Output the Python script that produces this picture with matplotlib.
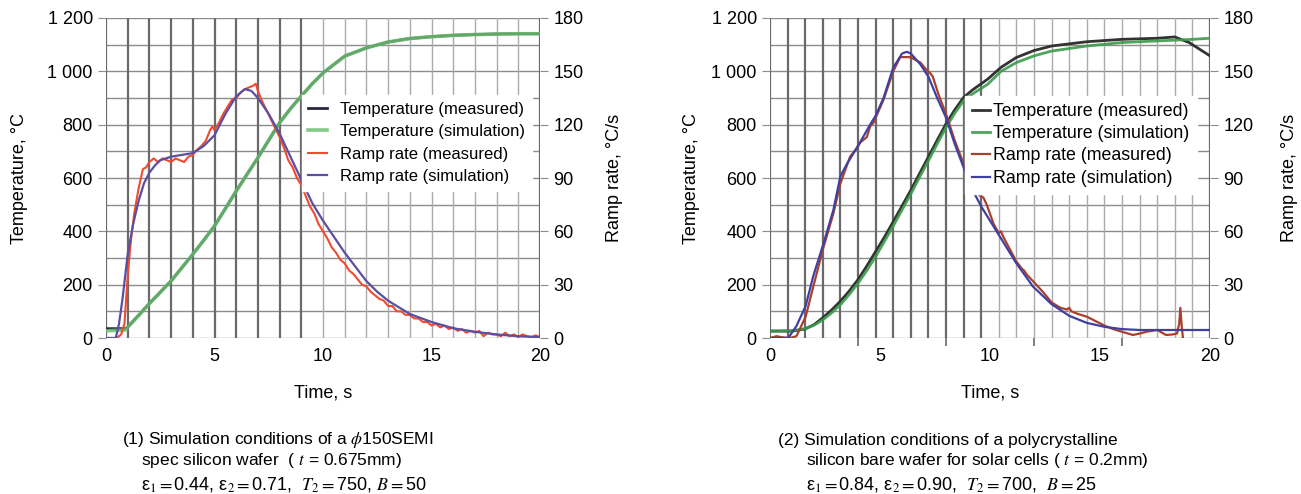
import numpy as np
import matplotlib.pyplot as plt

plt.rcParams['font.family'] = ['Liberation Sans', 'DejaVu Sans']
plt.rcParams['mathtext.fontset'] = 'stix'

# ---- panel (1): phi150 SEMI wafer ----
t_temp1 = [0, 0.9, 1.0, 1.5, 2, 2.5, 3, 3.5, 4, 4.5, 5, 5.5, 6, 6.5, 7, 7.5, 8, 8.5,
           9, 9.5, 10, 11, 12, 13, 14, 15, 16, 17, 18, 19, 20]
temp_meas1 = [35, 35, 42, 85, 130, 172, 214, 264, 314, 366, 420, 485, 551, 614, 676, 742,
              807, 860, 907, 953, 994, 1057, 1088, 1110, 1123, 1130, 1135, 1138, 1140, 1141, 1141]
temp_sim1 = [27, 30, 40, 84, 129, 171, 214, 264, 314, 366, 420, 485, 551, 614, 676, 742,
             807, 860, 907, 953, 994, 1057, 1088, 1110, 1123, 1130, 1135, 1138, 1140, 1141, 1141]

t_rs1 = [0, 0.45, 0.6, 0.75, 1.0, 1.25, 1.5, 1.75, 2.0, 2.25, 2.5, 3.0, 3.5, 4.0, 4.5, 5.0,
         5.5, 6.0, 6.4, 6.7, 7.0, 7.5, 8.0, 8.5, 9.0, 9.5, 10, 10.5, 11, 11.5, 12, 12.5, 13,
         14, 15, 16, 17, 18, 19, 20]
ramp_sim1 = [0, 0, 8, 21, 47, 64, 77, 87, 93, 97, 100, 102, 103, 104, 108, 114, 126, 136, 140,
             139, 135, 126, 115, 102, 89, 76, 66, 57, 48, 40, 32, 26, 21, 13.5, 9, 5.5, 3.5, 2,
             1, 0.5]

t_rm1 = [0, 0.5, 0.7, 0.85, 1.0, 1.15, 1.3, 1.5, 1.7, 1.85, 2.0, 2.2, 2.4, 2.6, 2.8, 3.0, 3.2,
         3.4, 3.6, 3.8, 4.0, 4.2, 4.4, 4.6, 4.8, 4.9, 5.0, 5.2, 5.4, 5.6, 5.8, 6.0, 6.2, 6.4,
         6.6, 6.8, 6.9, 7.0, 7.2, 7.4, 7.6, 7.8, 8.0, 8.2, 8.4, 8.6, 8.8, 9.0, 9.2, 9.4, 9.6,
         9.8, 10.0, 10.2, 10.4, 10.6, 10.8, 11.0, 11.2, 11.4, 11.6, 11.8, 12.0, 12.2, 12.4,
         12.6, 12.8, 13.0, 13.2, 13.4, 13.6, 13.8, 14.0, 14.2, 14.4, 14.6, 14.8, 15.0, 15.2,
         15.4, 15.6, 15.8, 16.0, 16.2, 16.4, 16.6, 16.8, 17.0, 17.2, 17.4, 17.6, 17.8, 18.0,
         18.2, 18.4, 18.6, 18.8, 19.0, 19.2, 19.4, 19.6, 19.8, 20.0]
ramp_meas1 = [0, 0, 2, 8, 35, 55, 70, 84, 95, 96, 99, 101, 99, 101, 100, 99, 101, 100, 99, 102,
              103, 106, 108, 111, 117, 119, 117, 121, 126, 130, 134, 135, 138, 140, 141, 142,
              143, 139, 133, 128, 123, 118, 113, 107, 100, 96, 90, 86, 80, 74, 70, 64, 60, 56,
              51, 48, 44, 42, 38, 36, 33, 30, 29, 26, 24, 22, 21, 18, 18, 15, 15, 13, 13, 11,
              11, 9, 9, 7, 8, 6, 7, 5, 6, 4, 5, 3, 4, 3, 4, 1, 3, 2, 2, 1, 3, 1, 2, 0.5, 2, 1,
              0.5, 1.5, 0.5]

# ---- panel (2): polycrystalline solar wafer ----
t_temp2 = [0, 1.0, 1.2, 1.6, 2.0, 2.4, 2.8, 3.2, 3.6, 4.0, 4.4, 4.8, 5.2, 5.6, 6.0, 6.4, 6.8,
           7.2, 7.6, 8.0, 8.4, 8.8, 9.2, 9.9, 10.5, 11.2, 12.0, 12.8, 14.4, 16.0, 17.6, 18.4,
           19.05, 20]
temp_meas2 = [26, 26, 28, 34, 50, 76, 105, 138, 176, 219, 270, 324, 378, 436, 495, 554, 617,
              679, 742, 803, 856, 902, 930, 971, 1015, 1052, 1078, 1095, 1111, 1120, 1124,
              1129, 1108, 1058]
t_sim2 = [0, 1.0, 1.6, 2.0, 2.4, 2.8, 3.2, 3.6, 4.0, 4.4, 4.8, 5.2, 5.6, 6.0, 6.4, 6.8, 7.2,
          7.6, 8.0, 8.4, 8.8, 9.2, 9.9, 10.5, 11.2, 12.0, 12.8, 14.4, 16.0, 17.6, 19.0, 20]
temp_sim2 = [26, 27, 35, 48, 68, 94, 125, 163, 205, 253, 305, 362, 420, 480, 540, 603, 665,
             728, 790, 843, 890, 915, 952, 1000, 1033, 1058, 1076, 1095, 1108, 1114, 1119, 1124]

t_rs2 = [0, 0.83, 1.2, 1.62, 1.97, 2.43, 2.88, 3.2, 3.5, 4.0, 4.55, 4.8, 5.16, 5.6, 6.0, 6.22,
         6.4, 6.83, 7.2, 7.6, 8.0, 8.4, 8.8, 9.26, 9.6, 10.0, 10.5, 11.2, 11.95, 12.8, 13.6,
         14.4, 15.2, 16.0, 16.8, 20]
ramp_sim2 = [0, 0, 6.7, 18, 35, 53, 72, 91, 98, 108, 120, 125, 135, 152, 160, 161, 160, 154,
             147, 135, 124, 109, 96, 82, 74, 66, 56, 42, 29, 19, 12.5, 8.5, 6.3, 5, 4.5, 4.5]

t_rm2 = [0, 0.3, 0.5, 0.9, 1.2, 1.62, 1.97, 2.43, 2.88, 3.2, 3.64, 3.9, 4.1, 4.4, 4.55, 4.7,
         5.16, 5.6, 5.92, 6.37, 6.83, 7.1, 7.28, 7.4, 7.66, 8.0, 8.4, 8.8, 9.26, 9.55, 9.7,
         9.85, 10.17, 10.4, 10.5, 10.6, 11.2, 11.45, 11.55, 11.65, 11.95, 12.4, 12.8, 13.2,
         13.5, 13.6, 13.7, 14.0, 14.4, 14.8, 15.2, 15.6, 16.0, 16.5, 16.8, 17.1, 17.6, 18.0,
         18.3, 18.5, 18.6, 18.65, 18.72, 18.77]
ramp_meas2 = [0, 1, 0.5, 0, 1, 12, 29, 51, 70, 87, 102, 106, 110, 113, 119, 121, 134, 150, 158,
              158, 155, 151, 149, 147, 137, 126, 111, 98, 85, 80, 79, 75, 64, 59, 60, 57, 43,
              39, 38, 36, 32, 26, 20, 17, 16, 17, 15, 13.5, 12, 9.5, 7, 5, 3.5, 1.7, 2.5, 3.5,
              4.5, 1.7, 2, 2.5, 8, 17, 6, 0]

temp_ticks = [0, 200, 400, 600, 800, 1000, 1200]
temp_labels = ['0', '200', '400', '600', '800', '1 000', '1 200']
rate_ticks = [0, 30, 60, 90, 120, 150, 180]
labels = ['Temperature (measured)', 'Temperature (simulation)',
          'Ramp rate (measured)', 'Ramp rate (simulation)']

fig = plt.figure(figsize=(13.01, 4.94), dpi=100)
ax1 = fig.add_axes([106 / 1301, 156 / 494, 434 / 1301, 320 / 494])
ax3 = fig.add_axes([770 / 1301, 156 / 494, 440 / 1301, 320 / 494])


def setup(ax, vgrid, dark_until, xminor, lpad, rpad):
    ax.set_xlim(0, 20)
    ax.set_ylim(0, 1200)
    for y in range(0, 1201, 100):
        ax.axhline(y, color='#8c8c8c', lw=1.0, zorder=0)
    for x in vgrid:
        if x <= dark_until or x >= 19.99:
            ax.axvline(x, color='#6a6a6a', lw=1.6, zorder=0)
        else:
            ax.axvline(x, color='#ababab', lw=1.0, zorder=0)
    ax.set_xticks([0, 5, 10, 15, 20])
    ax.set_xticks(xminor, minor=True)
    ax.tick_params(axis='x', which='major', length=0, pad=7, labelsize=13)
    ax.tick_params(axis='x', which='minor', length=6, color='#6a6a6a', width=1.2)
    ax.set_yticks(temp_ticks)
    ax.set_yticklabels(temp_labels)
    ax.tick_params(axis='y', length=6, color='#8c8c8c', labelsize=13)
    for s in ax.spines.values():
        s.set_visible(False)
    ax.set_xlabel('Time, s', fontsize=13, labelpad=14)
    ax.set_ylabel('Temperature, °C', fontsize=13, labelpad=lpad)
    ax2 = ax.twinx()
    ax2.set_ylim(0, 180)
    ax2.set_yticks(rate_ticks)
    ax2.tick_params(axis='y', length=6, color='#8c8c8c', labelsize=13)
    for s in ax2.spines.values():
        s.set_visible(False)
    ax2.set_ylabel('Ramp rate, °C/s', fontsize=13, labelpad=rpad)
    return ax2


grid1 = list(range(0, 21))
ax2 = setup(ax1, grid1, 9, [5, 10, 15], 14, 16)
h1, = ax1.plot(t_temp1, temp_meas1, color='#2b2540', lw=2.0, zorder=3)
h2, = ax1.plot(t_temp1, temp_sim1, color='#6cc070', lw=2.6, alpha=0.85, zorder=4)
h3, = ax2.plot(t_rm1, ramp_meas1, color='#f04a30', lw=1.5)
h4, = ax2.plot(t_rs1, ramp_sim1, color='#5a4fa0', lw=1.6)
leg = ax2.legend([h1, h2, h3, h4], labels, loc='upper right', bbox_to_anchor=(1.0, 0.785),
                 fontsize=12, frameon=True, fancybox=False, framealpha=1, edgecolor='white',
                 handlelength=1.1, handletextpad=0.8, labelspacing=0.45, borderpad=0.4)
leg.set_zorder(10)

grid2 = [i * 0.8 for i in range(26)]
ax4 = setup(ax3, grid2, 9.7, [4, 8, 12, 16, 20], 8, 20)
g1, = ax3.plot(t_temp2, temp_meas2, color='#333333', lw=2.0, zorder=3)
g2, = ax3.plot(t_sim2, temp_sim2, color='#3a9a4a', lw=2.0, alpha=0.9, zorder=4)
g3, = ax4.plot(t_rm2, ramp_meas2, color='#a84030', lw=1.6)
g4, = ax4.plot(t_rs2, ramp_sim2, color='#4040a0', lw=1.6)
leg2 = ax4.legend([g1, g2, g3, g4], labels, loc='upper right', bbox_to_anchor=(0.99, 0.785),
                  fontsize=12.8, frameon=True, fancybox=False, framealpha=1, edgecolor='white',
                  handlelength=1.0, handletextpad=0.2, labelspacing=0.3, borderpad=0.4)
leg2.set_zorder(10)

# captions
fs = 12.5
fig.text(122 / 1301, 1 - 440 / 494, r'(1) Simulation conditions of a $\phi$150SEMI',
         fontsize=fs, va='center')
fig.text(141 / 1301, 1 - 460 / 494, r'spec silicon wafer  ( $t$ = 0.675mm)',
         fontsize=fs, va='center')
fig.text(141 / 1301, 1 - 484 / 494,
         r'ε$_1 =$0.44, ε$_2 =$0.71,  $T_2 =$750, $B =$50',
         fontsize=fs + 0.5, va='center')
fig.text(778 / 1301, 1 - 440 / 494, '(2) Simulation conditions of a polycrystalline',
         fontsize=fs, va='center')
fig.text(806 / 1301, 1 - 460 / 494, r'silicon bare wafer for solar cells ( $t$ = 0.2mm)',
         fontsize=fs, va='center')
fig.text(806 / 1301, 1 - 484 / 494,
         r'ε$_1 =$0.84, ε$_2 =$0.90,  $T_2 =$700,  $B =$25',
         fontsize=fs + 0.5, va='center')

fig.savefig('out.png', dpi=100)
